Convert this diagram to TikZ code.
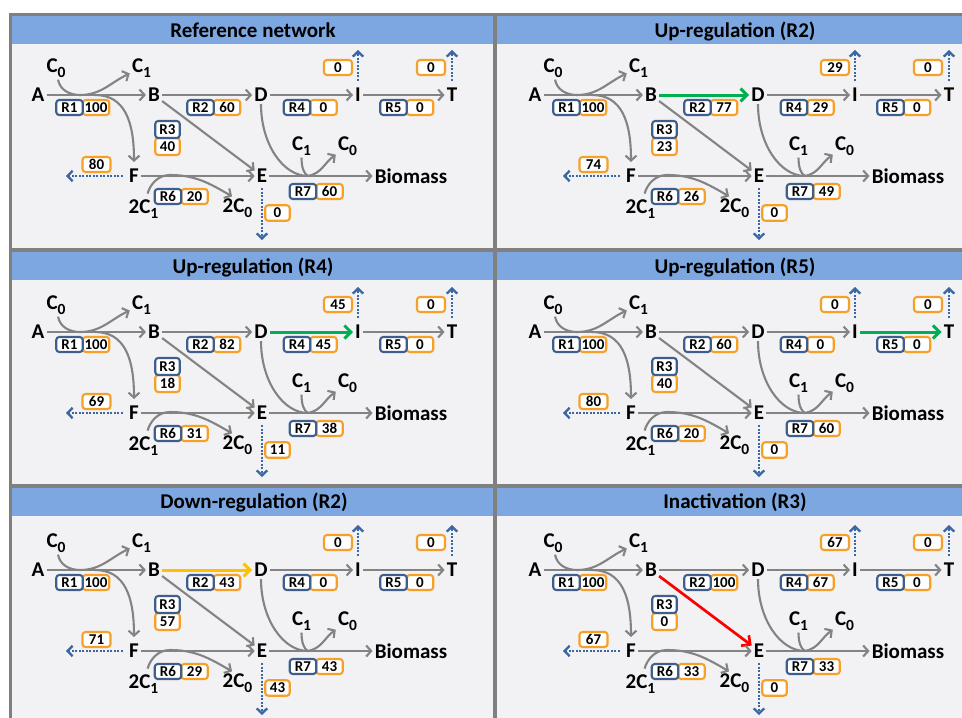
\documentclass[tikz,border=0pt]{standalone}
\usepackage{fontspec}
\setmainfont{Carlito}
\usetikzlibrary{arrows.meta,positioning}
\definecolor{NetFrame}{HTML}{808080}
\definecolor{NetPanel}{HTML}{F2F1F3}
\definecolor{NetHead}{HTML}{7CA7E0}
\definecolor{NetFlow}{HTML}{838383}
\definecolor{NetRxn}{HTML}{3E5F8C}
\definecolor{NetVal}{HTML}{F7A028}
\definecolor{NetDrain}{HTML}{3A66A3}
\definecolor{NetUp}{HTML}{00B050}
\definecolor{NetDown}{HTML}{FFC000}
\definecolor{NetCut}{HTML}{FF0000}
\newcommand\msub[1]{\raisebox{-5pt}{\fontsize{15.5}{15.5}\selectfont#1}}

\begin{document}
\begin{tikzpicture}[x=1pt,y=1pt,
  met/.style={font=\fontsize{21}{25}\selectfont\bfseries,inner sep=2pt},
  paneltitle/.style={font=\fontsize{21}{25}\selectfont\bfseries,inner sep=0pt},
  rxn/.style={draw=NetRxn,fill=white,line width=2.1pt,rounded corners=3pt,font=\fontsize{15}{17}\selectfont\bfseries,minimum width=26.5pt,minimum height=15pt,inner sep=0pt},
  val/.style={rxn,draw=NetVal},
  flowline/.style={draw=NetFlow,line width=2.1pt},
  flow/.style={flowline,-{Straight Barb[length=5pt,width=11pt]}},
  flowup/.style={flow,draw=NetUp,line width=3pt,-{Straight Barb[length=6.5pt,width=13pt]}},
  flowdown/.style={flowup,draw=NetDown},
  flowcut/.style={flowup,draw=NetCut,line width=2.7pt},
  drain/.style={draw=NetDrain,line width=2.3pt,dash pattern=on 2pt off 1.5pt,-{Straight Barb[length=5pt,width=10.5pt]}},
  frameline/.style={draw=NetFrame,line width=3.5pt}]
\useasboundingbox (0,0) rectangle (962,-718);
\fill[white] (0,0) rectangle (962,-718);
\fill[NetPanel] (10.5,-14.5) rectangle (962,-718);
% header bands
\fill[NetHead] (10.5,-16) rectangle (962,-44);
\fill[NetHead] (10.5,-252) rectangle (962,-280);
\fill[NetHead] (10.5,-488) rectangle (962,-516);
% panel frame
\draw[frameline] (10.5,-12.75) -- (10.5,-718);
\draw[frameline] (495,-12.75) -- (495,-718);
\draw[frameline] (8.75,-14.5) -- (962,-14.5);
\draw[frameline] (8.75,-250) -- (962,-250);
\draw[frameline] (8.75,-486) -- (962,-486);
\foreach \ttl/\tx/\ty [count=\k] in {
  Reference network/253/37,
  Up-regulation (R2)/735/37,
  Up-regulation (R4)/253/273.5,
  Up-regulation (R5)/735/273.5,
  Down-regulation (R2)/254/508.5,
  Inactivation (R3)/735/508.5}
  \node[paneltitle,anchor=base] (ttl\k) at (\tx,-\ty) {\ttl};

% one network per panel
\foreach \p/\ox/\oy/\vA/\vB/\vC/\vD/\vE/\vF/\vG/\wF/\wE/\wI/\wT/\sBD/\sBE/\sDI/\sIT in {
  1/0/0/100/60/40/0/0/20/60/80/0/0/0/flow/flow/flow/flow,
  2/497/0/100/77/23/29/0/26/49/74/0/29/0/flowup/flow/flow/flow,
  3/0/237/100/82/18/45/0/31/38/69/11/45/0/flow/flow/flowup/flow,
  4/497/237/100/60/40/0/0/20/60/80/0/0/0/flow/flow/flow/flowup,
  5/0/475/100/43/57/0/0/29/43/71/43/0/0/flowdown/flow/flow/flow,
  6/497/475/100/100/0/67/0/33/33/67/0/67/0/flow/flowcut/flow/flow}{
\begin{scope}[shift={(\ox,-\oy)}]
\node[met] (A\p) at (38,-95) {A};
\node[met] (B\p) at (154,-95) {B};
\node[met] (D\p) at (261,-95) {D};
\node[met] (I\p) at (358,-95) {I};
\node[met] (T\p) at (452,-95) {T};
\node[met] (F\p) at (134,-176) {F};
\node[met] (E\p) at (262,-176) {E};
\node[met] (Bio\p) at (411,-176) {Biomass};
\node[met] (Ca\p) at (56,-68) {C\msub{0}};
\node[met] (Cb\p) at (141.5,-68) {C\msub{1}};
\node[met] (Cc\p) at (301.5,-146) {C\msub{1}};
\node[met] (Cd\p) at (347.5,-146.5) {C\msub{0}};
\node[met] (Ce\p) at (143.5,-209) {2C\msub{1}};
\node[met] (Cf\p) at (237.5,-208) {2C\msub{0}};
\coordinate (j1\p) at (80,-95);
\coordinate (j2\p) at (95,-95);
\coordinate (j6\p) at (170,-175);
\coordinate (j7\p) at (308,-176);
\coordinate (xI\p) at (358,-50);
\coordinate (xT\p) at (452,-50);
\coordinate (xF\p) at (66,-176);
\coordinate (xE\p) at (262,-240);
% reactions
\draw[flow] (A\p) -- (B\p);
\draw[flow] (Ca\p) to[out=-80,in=180] (j1\p) to[out=0,in=205] (Cb\p);
\draw[flow,shorten >=5pt] (j2\p) .. controls +(30,0) and +(0,45) .. (F\p.north);
\draw[\sBD] (B\p) -- (D\p);
\draw[\sBE] (B\p) -- (E\p);
\draw[\sDI] (D\p) -- (I\p);
\draw[\sIT] (I\p) -- (T\p);
\draw[flow] (F\p) -- (E\p);
\draw[flow,shorten <=4pt] (Ce\p) to[out=75,in=180] (j6\p) to[out=0,in=150] (Cf\p.115);
\draw[flow] (E\p) -- (Bio\p);
\draw[flowline] (D\p.south) .. controls +(0,-40) and +(-25,0) .. (j7\p);
\draw[flowline] (Cc\p.south) .. controls +(0,-10) and +(-4,2) .. (j7\p);
\draw[flow] (j7\p) to[out=10,in=215] (Cd\p);
% exchange fluxes
\draw[drain,shorten <=5pt] (I\p) -- (xI\p);
\draw[drain,shorten <=5pt] (T\p) -- (xT\p);
\draw[drain,shorten <=4pt] (F\p) -- (xF\p);
\draw[drain,shorten <=3pt] (E\p) -- (xE\p);
% flux boxes
\node[val] (v1\p) at (96,-107.5) {\vA};
\node[rxn,left=-2.1pt of v1\p] (r1\p) {R1};
\node[val] (v2\p) at (227,-107.5) {\vB};
\node[rxn,left=-2.1pt of v2\p] (r2\p) {R2};
\node[val,minimum width=24.5pt,minimum height=17pt] (v3\p) at (167.5,-146.5) {\vC};
\node[rxn,minimum width=24.5pt,minimum height=17pt,above=-2.1pt of v3\p] (r3\p) {R3};
\node[val] (v4\p) at (323.5,-107.5) {\vD};
\node[rxn,left=-2.1pt of v4\p] (r4\p) {R4};
\node[val] (v5\p) at (420,-107.5) {\vE};
\node[rxn,left=-2.1pt of v5\p] (r5\p) {R5};
\node[val] (v6\p) at (194.5,-196.5) {\vF};
\node[rxn,left=-2.1pt of v6\p] (r6\p) {R6};
\node[val] (v7\p) at (329.5,-191.5) {\vG};
\node[rxn,left=-2.1pt of v7\p] (r7\p) {R7};
\node[val,minimum width=28pt] (oI\p) at (338,-67.5) {\wI};
\node[val,minimum width=28pt] (oT\p) at (431,-67.5) {\wT};
\node[val,minimum width=28pt] (oF\p) at (96.5,-164.5) {\wF};
\node[val,minimum width=24.5pt,minimum height=15.5pt] (oE\p) at (277.5,-213) {\wE};
\end{scope}}
\end{tikzpicture}
\end{document}
